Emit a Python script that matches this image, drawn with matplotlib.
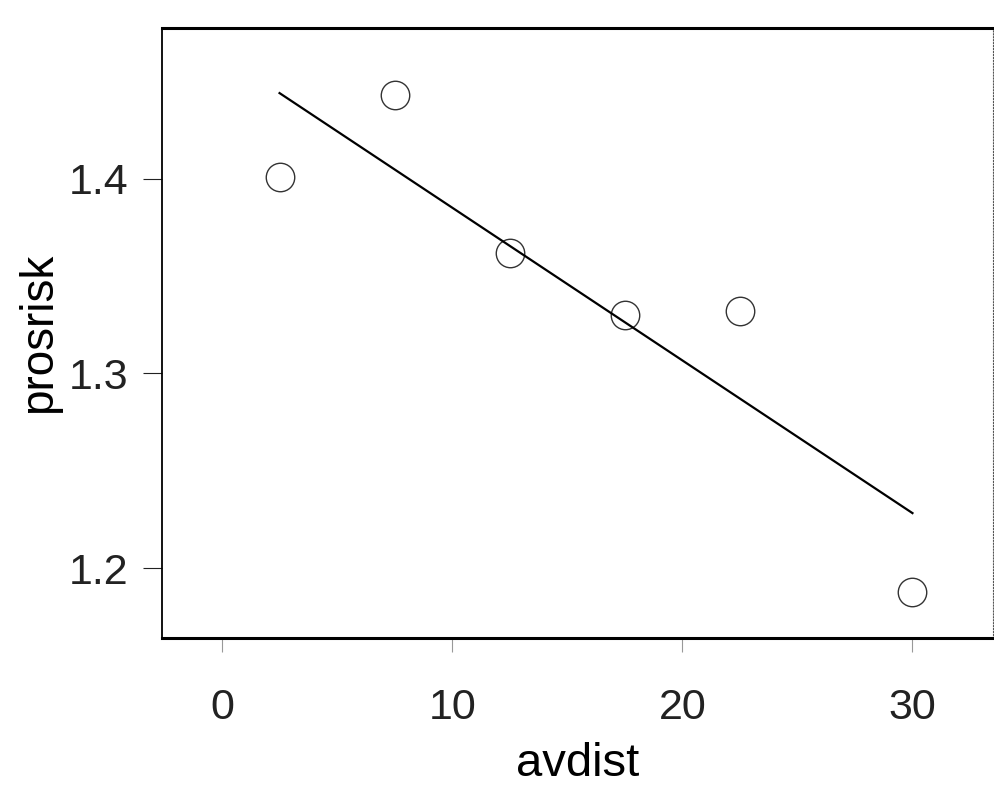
import numpy as np
import matplotlib
matplotlib.use("Agg")
import matplotlib.pyplot as plt

# values
avdist = [2.5, 7.5, 12.5, 17.5, 22.5, 30.0]
prosrisk = [1.401, 1.443, 1.362, 1.330, 1.332, 1.188]
xticks = [0, 10, 20, 30]
yticks = [1.2, 1.3, 1.4]

plt.rcParams['font.family'] = ['Liberation Sans', 'DejaVu Sans']

fig = plt.figure(figsize=(9.95, 7.93), dpi=100)
ax = fig.add_axes([0.163, 0.195, 0.835, 0.77])

ax.plot(avdist, prosrisk, 'o', ms=20.5, mfc='none', mec='#333333', mew=1.0)

# least squares line over the range of the data
b, a = np.polyfit(avdist, prosrisk, 1)
xs = np.array([min(avdist), max(avdist)])
ax.plot(xs, a + b * xs, color='black', lw=1.6)

ax.set_xlim(-2.6, 33.5)
ax.set_ylim(1.164, 1.4775)
ax.set_xticks(xticks)
ax.set_yticks(yticks)
ax.tick_params(labelsize=31, width=0.8, colors='#222222')
ax.tick_params(axis='x', length=10, pad=26, color='#999999')
ax.tick_params(axis='y', length=14, pad=10)
ax.set_xlabel('avdist', fontsize=34, labelpad=10)
ax.set_ylabel('prosrisk', fontsize=33, labelpad=6)

for s in ['top', 'bottom']:
    ax.spines[s].set_linewidth(2.2)
ax.spines['left'].set_linewidth(1.3)
ax.spines['right'].set_linewidth(0.8)
ax.spines['right'].set_linestyle(':')
ax.spines['right'].set_color('#555555')

fig.savefig('out.png', dpi=100)
